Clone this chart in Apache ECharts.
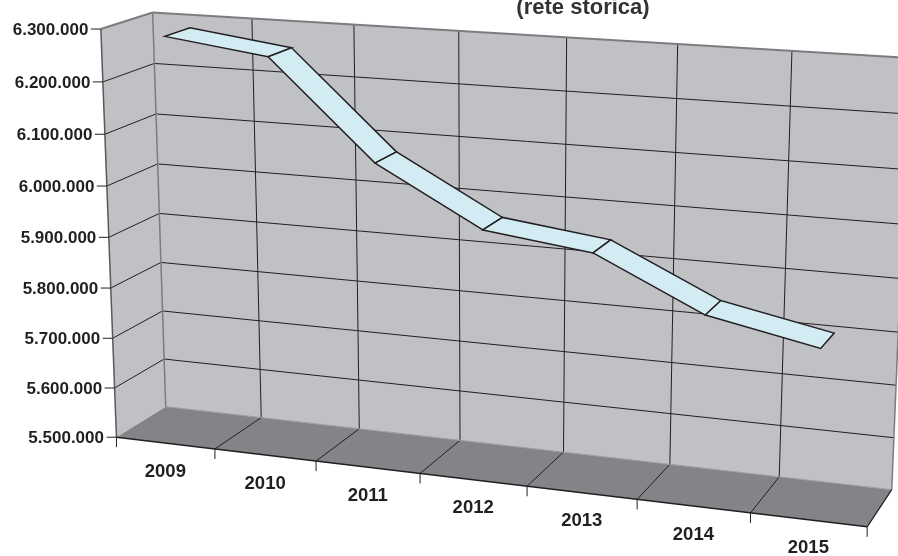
<!DOCTYPE html>
<html>
<head>
<meta charset="utf-8">
<script src="https://cdn.jsdelivr.net/npm/echarts@6/dist/echarts.min.js"></script>
<style>
  html, body { margin: 0; padding: 0; background: #ffffff; }
  #chart { width: 898px; height: 556px; }
</style>
</head>
<body>
<div id="chart"></div>
<script>
// Categories and yearly values
const years = ['2009', '2010', '2011', '2012', '2013', '2014', '2015'];
const lines = [6284000, 6258000, 6073000, 5964000, 5939000, 5843000, 5802000];

// Value axis ticks and their labels
const valueTicks = [5500000, 5600000, 5700000, 5800000, 5900000, 6000000, 6100000, 6200000, 6300000];
const tickLabels = ['5.500.000', '5.600.000', '5.700.000', '5.800.000', '5.900.000',
                    '6.000.000', '6.100.000', '6.200.000', '6.300.000'];

const subtitle = '(rete storica)';

// Screen anchors of the perspective plot box.
// Each entry: [slot X (0..7), step Y (0..8), depth Z (0 front, 1 back), screen x, screen y]
const boxAnchors = [
  [0, 0, 0, 116.5, 437], [1, 0, 0, 215, 449], [2, 0, 0, 316, 461], [3, 0, 0, 420, 474],
  [4, 0, 0, 527, 487], [5, 0, 0, 637, 499], [6, 0, 0, 750, 513], [7, 0, 0, 867, 527],
  [0, 2, 0, 113, 339], [0, 4, 0, 109, 238], [0, 6, 0, 105, 132], [0, 8, 0, 101, 29],
  [0, 0, 1, 166, 407], [1, 0, 1, 261, 418], [2, 0, 1, 359, 428], [3, 0, 1, 460, 440],
  [4, 0, 1, 563, 452], [5, 0, 1, 670, 464], [6, 0, 1, 780, 477], [7, 0, 1, 892, 489],
  [0, 8, 1, 152, 12], [1, 8, 1, 253, 19], [2, 8, 1, 353, 25], [3, 8, 1, 458, 31],
  [4, 8, 1, 567, 37.5], [5, 8, 1, 678, 44], [6, 8, 1, 792, 51]
];

const FONT = '"Liberation Sans", Arial, Helvetica, sans-serif';
const WALL = '#c0c1c5';
const FLOOR = '#838488';
const EDGE = '#7b7c80';
const INK = '#231f20';
const RIBBON = '#d3ecf3';
const RIBBON_FRONT = 0.25;
const RIBBON_BACK = 0.75;

// Least-squares pinhole camera (3x4 projective matrix) from the box anchors.
function fitCamera(pts, nx, ny) {
  const rows = [], rhs = [];
  pts.forEach(([X, Y, Z, u, v]) => {
    const x = X / nx, y = Y / ny, z = Z, uu = u / 1000, vv = v / 1000;
    rows.push([x, y, z, 1, 0, 0, 0, 0, -uu * x, -uu * y, -uu * z]); rhs.push(uu);
    rows.push([0, 0, 0, 0, x, y, z, 1, -vv * x, -vv * y, -vv * z]); rhs.push(vv);
  });
  const n = 11;
  const A = Array.from({ length: n }, () => new Array(n + 1).fill(0));
  rows.forEach((r, k) => {
    for (let i = 0; i < n; i++) {
      for (let j = 0; j < n; j++) A[i][j] += r[i] * r[j];
      A[i][n] += r[i] * rhs[k];
    }
  });
  for (let c = 0; c < n; c++) {
    let p = c;
    for (let r = c + 1; r < n; r++) if (Math.abs(A[r][c]) > Math.abs(A[p][c])) p = r;
    [A[c], A[p]] = [A[p], A[c]];
    for (let r = 0; r < n; r++) {
      if (r === c) continue;
      const f = A[r][c] / A[c][c];
      for (let j = c; j <= n; j++) A[r][j] -= f * A[c][j];
    }
  }
  const m = A.map((row, i) => row[n] / row[i]);
  return (x, y, z) => {
    const w = m[8] * x + m[9] * y + m[10] * z + 1;
    return [1000 * (m[0] * x + m[1] * y + m[2] * z + m[3]) / w,
            1000 * (m[4] * x + m[5] * y + m[6] * z + m[7]) / w];
  };
}

const project = fitCamera(boxAnchors, years.length, valueTicks.length - 1);

// Normalised (0..1) position of a data point inside the cartesian grid
function unit(api, cs, cat, val) {
  const p = api.coord([cat, val]);
  return [(p[0] - cs.x) / cs.width, (cs.y + cs.height - p[1]) / cs.height];
}

function seg(a, b, stroke, width) {
  return { type: 'line', shape: { x1: a[0], y1: a[1], x2: b[0], y2: b[1] },
           style: { stroke: stroke, lineWidth: width, fill: null }, silent: true };
}

function poly(pts, fill) {
  return { type: 'polygon', shape: { points: pts }, style: { fill: fill, stroke: null }, silent: true };
}

// Walls, floor, gridlines, ticks and labels of the box
function renderFrame(params, api) {
  const cs = params.coordSys;
  const band = api.size([1, 0])[0] / cs.width;
  const slots = [];
  for (let i = 0; i < years.length; i++) {
    const c = unit(api, cs, i, valueTicks[0])[0];
    if (i === 0) slots.push(c - band / 2);
    slots.push(c + band / 2);
  }
  const levels = valueTicks.map(t => unit(api, cs, 0, t)[1]);
  const P = project;
  const kids = [];

  kids.push(poly([P(0, 0, 0), P(0, 1, 0), P(0, 1, 1), P(0, 0, 1)], WALL));
  kids.push(poly([P(0, 0, 1), P(1, 0, 1), P(1, 1, 1), P(0, 1, 1)], WALL));
  kids.push(poly([P(0, 0, 0), P(1, 0, 0), P(1, 0, 1), P(0, 0, 1)], FLOOR));

  // horizontal gridlines on left and back walls
  levels.forEach((ly, k) => {
    if (k === 0 || k === levels.length - 1) return;
    kids.push(seg(P(0, ly, 0), P(0, ly, 1), INK, 1));
    kids.push(seg(P(0, ly, 1), P(1, ly, 1), INK, 1));
  });
  // vertical gridlines on back wall, depth lines on floor
  slots.forEach((sx, k) => {
    if (k === 0 || k === slots.length - 1) return;
    kids.push(seg(P(sx, 0, 1), P(sx, 1, 1), INK, 1));
    kids.push(seg(P(sx, 0, 0), P(sx, 0, 1), INK, 1));
  });
  // floor / back wall junction
  kids.push(seg(P(0, 0, 1), P(1, 0, 1), '#9c9da0', 1));

  // outer edges
  kids.push(seg(P(0, 1, 0), P(0, 1, 1), EDGE, 2));
  kids.push(seg(P(0, 1, 1), P(1, 1, 1), EDGE, 2));
  kids.push(seg(P(0, 0, 1), P(0, 1, 1), EDGE, 1.5));
  kids.push(seg(P(1, 0, 1), P(1, 1, 1), EDGE, 1.5));
  kids.push(seg(P(1, 0, 0), P(1, 0, 1), INK, 1.2));
  kids.push(seg(P(0, 0, 0), P(0, 1, 0), '#58595b', 1.5));
  kids.push(seg(P(0, 0, 0), P(1, 0, 0), INK, 1.5));

  // value axis ticks and labels
  levels.forEach((ly, k) => {
    const a = P(0, ly, 0);
    kids.push(seg([a[0] - 10, a[1]], a, INK, 1));
    kids.push({ type: 'text', silent: true,
      style: { text: tickLabels[k], x: a[0] - 12.5, y: a[1] + 1, align: 'right', verticalAlign: 'middle',
               font: 'bold 17px ' + FONT, fill: INK } });
  });
  // category ticks
  slots.forEach(sx => {
    const a = P(sx, 0, 0);
    kids.push(seg(a, [a[0], a[1] + 10], INK, 1));
  });
  // category labels
  years.forEach((yr, i) => {
    const c = unit(api, cs, i, valueTicks[0])[0];
    const a = P(c, 0, 0);
    kids.push({ type: 'text', silent: true,
      style: { text: yr, x: a[0], y: a[1] + 28.5, align: 'center', verticalAlign: 'middle',
               font: 'bold 18.5px ' + FONT, fill: INK } });
  });
  return { type: 'group', children: kids };
}

// One ribbon panel per pair of consecutive years
function renderRibbon(params, api) {
  const i = params.dataIndexInside;
  if (i >= lines.length - 1) return null;
  const cs = params.coordSys;
  const a = unit(api, cs, api.value(0, i), api.value(1, i));
  const b = unit(api, cs, api.value(0, i + 1), api.value(1, i + 1));
  const pts = [
    project(a[0], a[1], RIBBON_FRONT), project(b[0], b[1], RIBBON_FRONT),
    project(b[0], b[1], RIBBON_BACK), project(a[0], a[1], RIBBON_BACK)
  ];
  return { type: 'polygon', shape: { points: pts },
           style: { fill: RIBBON, stroke: INK, lineWidth: 1.5, lineJoin: 'miter' } };
}

const chart = echarts.init(document.getElementById('chart'), null, { renderer: 'canvas' });
chart.setOption({
  animation: false,
  backgroundColor: '#ffffff',
  grid: { left: 0, right: 0, top: 0, bottom: 0, show: false },
  xAxis: { type: 'category', data: years, boundaryGap: true, show: false },
  yAxis: { type: 'value', min: valueTicks[0], max: valueTicks[valueTicks.length - 1],
           interval: 100000, show: false },
  graphic: [{
    type: 'text', x: 583, y: 19, silent: true,
    style: { text: subtitle, align: 'center', verticalAlign: 'bottom',
             font: 'bold 22px ' + FONT, fill: '#333333' }
  }],
  series: [
    { type: 'custom', name: 'frame', coordinateSystem: 'cartesian2d', z: 1, silent: true,
      data: [[0, valueTicks[0]]], renderItem: renderFrame },
    { type: 'custom', name: 'Linee', coordinateSystem: 'cartesian2d', z: 2, silent: true,
      data: lines.map((v, i) => [i, v]), renderItem: renderRibbon }
  ]
});
</script>
</body>
</html>
